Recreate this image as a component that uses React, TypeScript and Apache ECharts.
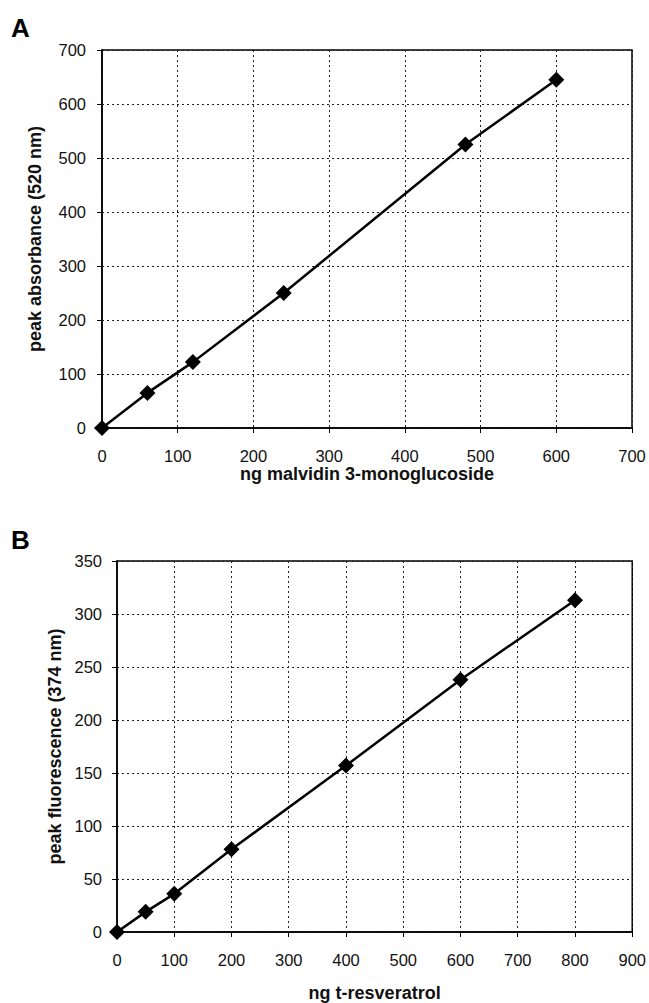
import React, { useEffect, useRef } from "react";
import * as echarts from "echarts";

const massA = [0, 60, 120, 240, 480, 600];
const absorbanceA = [0, 65, 122, 250, 525, 645];
const massB = [0, 50, 100, 200, 400, 600, 800];
const fluorescenceB = [0, 19, 36, 78, 157, 238, 313];

const xNameA = "ng malvidin 3-monoglucoside";
const yNameA = "peak absorbance (520 nm)";
const xNameB = "ng t-resveratrol";
const yNameB = "peak fluorescence (374 nm)";

const FONT = "'Liberation Sans', Arial, sans-serif";

export default function App() {
  const ref = useRef<HTMLDivElement>(null);
  useEffect(() => {
    if (!ref.current) return;
    const chart = echarts.init(ref.current, undefined, { renderer: "svg" });
    const split = { show: true, lineStyle: { color: "#222", type: [2, 3] as any, width: 1 } };
    const axisLine = { show: true, onZero: false, lineStyle: { color: "#000", width: 1.5 } };
    const tick = { show: true, length: 5, inside: false, lineStyle: { color: "#000" } };
    const label = { color: "#111", fontSize: 16.5, fontFamily: FONT };
    const nameStyle = { color: "#111", fontSize: 18, fontWeight: "bold" as const, fontFamily: FONT };
    const series = (data: number[][], i: number) => ({
      type: "line",
      xAxisIndex: i,
      yAxisIndex: i,
      data,
      symbol: "diamond",
      symbolSize: 16,
      lineStyle: { color: "#000", width: 2.5 },
      itemStyle: { color: "#000" },
    });
    chart.setOption({
      animation: false,
      backgroundColor: "#fff",
      grid: [
        { left: 102, top: 50, right: 17, height: 378, show: true, borderColor: "#000", borderWidth: 1.5 },
        { left: 117, top: 561, right: 16, height: 373, show: true, borderColor: "#000", borderWidth: 1.5 },
      ],
      xAxis: [
        {
          gridIndex: 0, type: "value", min: 0, max: 700, interval: 100,
          axisLine, axisTick: tick, splitLine: split,
          axisLabel: { ...label, margin: 19 },
          name: xNameA, nameLocation: "middle", nameGap: 31, nameTextStyle: nameStyle,
        },
        {
          gridIndex: 1, type: "value", min: 0, max: 900, interval: 100,
          axisLine, axisTick: tick, splitLine: split,
          axisLabel: { ...label, margin: 19 },
          name: xNameB, nameLocation: "middle", nameGap: 52, nameTextStyle: nameStyle,
        },
      ],
      yAxis: [
        {
          gridIndex: 0, type: "value", min: 0, max: 700, interval: 100,
          axisLine, axisTick: tick, splitLine: split,
          axisLabel: { ...label, margin: 16 },
          name: yNameA, nameLocation: "middle", nameGap: 58, nameTextStyle: nameStyle,
        },
        {
          gridIndex: 1, type: "value", min: 0, max: 350, interval: 50,
          axisLine, axisTick: tick, splitLine: split,
          axisLabel: { ...label, margin: 15 },
          name: yNameB, nameLocation: "middle", nameGap: 51, nameTextStyle: nameStyle,
        },
      ],
      series: [
        series(massA.map((x, i) => [x, absorbanceA[i]]), 0),
        series(massB.map((x, i) => [x, fluorescenceB[i]]), 1),
      ],
      graphic: [
        { type: "text", left: 11, top: 15, style: { text: "A", fontSize: 26, fontWeight: "bold", fontFamily: FONT, fill: "#000" } },
        { type: "text", left: 11, top: 527, style: { text: "B", fontSize: 26, fontWeight: "bold", fontFamily: FONT, fill: "#000" } },
      ],
    });
    return () => chart.dispose();
  }, []);
  return (
    <div
      ref={ref}
      style={{ position: "absolute", left: 0, top: 0, width: 649, height: 1003 }}
    />
  );
}
